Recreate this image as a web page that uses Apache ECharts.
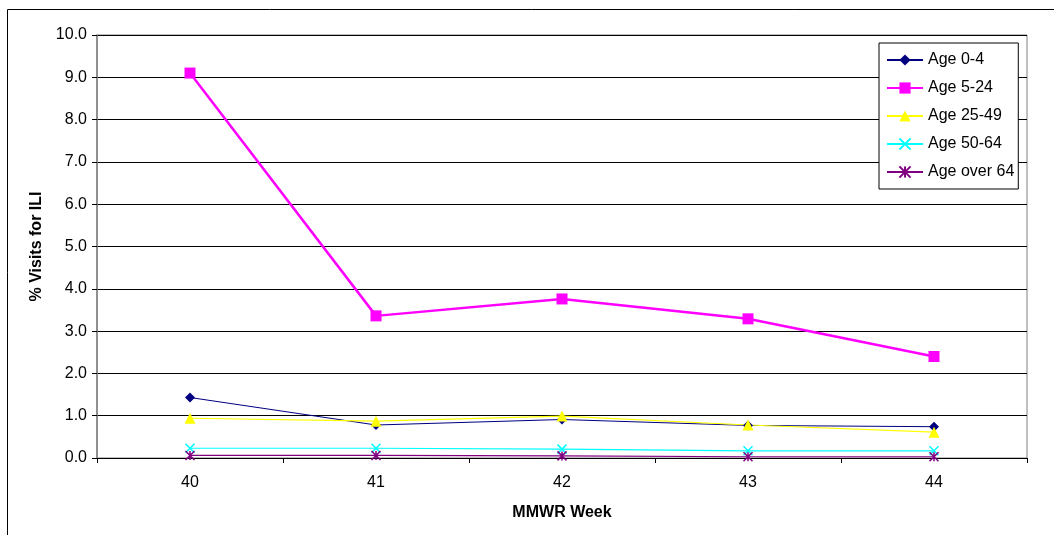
<!DOCTYPE html>
<html>
<head>
<meta charset="utf-8">
<script src="https://cdn.jsdelivr.net/npm/echarts@6/dist/echarts.min.js"></script>
<style>
html,body{margin:0;padding:0;background:#fff;}
#chart{width:1054px;height:535px;}
</style>
</head>
<body>
<div id="chart"></div>
<script>
const categories = ['40', '41', '42', '43', '44'];
const age0_4 = [1.43, 0.78, 0.91, 0.77, 0.74];
const age5_24 = [9.10, 3.36, 3.76, 3.29, 2.40];
const age25_49 = [0.94, 0.87, 0.99, 0.78, 0.61];
const age50_64 = [0.23, 0.23, 0.21, 0.17, 0.17];
const ageOver64 = [0.06, 0.06, 0.05, 0.03, 0.03];
const seriesNames = ['Age 0-4', 'Age 5-24', 'Age 25-49', 'Age 50-64', 'Age over 64'];

const FONT = '"Liberation Sans", Arial, sans-serif';
const chart = echarts.init(document.getElementById('chart'), null, {renderer: 'canvas'});

function mk(name, data, color, symbol, size, width, strokeSym) {
  return {
    name: name, type: 'line', data: data,
    symbol: symbol, symbolSize: size, showSymbol: true,
    lineStyle: {color: color, width: width},
    itemStyle: strokeSym ? {color: 'rgba(0,0,0,0)', borderColor: color, borderWidth: 1.5} : {color: color, borderWidth: 0},
    emphasis: {disabled: true},
    animation: false
  };
}

const option = {
  backgroundColor: '#fff',
  animation: false,
  graphic: [{
    type: 'rect', silent: true,
    shape: {x: 7.5, y: 9.5, width: 1100, height: 600},
    style: {fill: 'none', stroke: '#000', lineWidth: 1}
  }],
  grid: {left: 97, right: 27, top: 35, bottom: 77, show: true, borderColor: '#808080', borderWidth: 1, backgroundColor: 'transparent'},
  legend: {
    orient: 'vertical', left: 879, top: 43,
    padding: [9, 4, 9, 7], itemGap: 12, itemWidth: 36, itemHeight: 14,
    borderColor: '#000', borderWidth: 1, backgroundColor: '#fff',
    textStyle: {fontFamily: FONT, fontSize: 16, color: '#000'},
    data: seriesNames
  },
  xAxis: {
    type: 'category', data: categories, boundaryGap: true,
    name: 'MMWR Week', nameLocation: 'middle', nameGap: 47,
    nameTextStyle: {fontFamily: FONT, fontSize: 16, fontWeight: 'bold', color: '#000'},
    axisLine: {lineStyle: {color: '#000', width: 1}},
    axisTick: {show: true, alignWithLabel: false, length: 5, lineStyle: {color: '#000'}},
    axisLabel: {fontFamily: FONT, fontSize: 16, color: '#000', margin: 17},
    splitLine: {show: false}
  },
  yAxis: {
    type: 'value', min: 0, max: 10, interval: 1,
    name: '% Visits for ILI', nameLocation: 'middle', nameGap: 52,
    nameTextStyle: {fontFamily: FONT, fontSize: 16, fontWeight: 'bold', color: '#000'},
    axisLine: {show: true, lineStyle: {color: '#808080', width: 1.5}},
    axisTick: {show: true, length: 5, lineStyle: {color: '#000'}},
    axisLabel: {fontFamily: FONT, fontSize: 16, color: '#000', margin: 10, formatter: v => v.toFixed(1)},
    splitLine: {show: true, lineStyle: {color: '#000', width: 1}}
  },
  series: [
    mk('Age 0-4', age0_4, '#000080', 'diamond', 10, 1, false),
    mk('Age 5-24', age5_24, '#FF00FF', 'rect', 11, 2.5, false),
    mk('Age 25-49', age25_49, '#FFFF00', 'triangle', 11, 1.2, false),
    mk('Age 50-64', age50_64, '#00FFFF', 'path://M0,0L10,10M10,0L0,10', 9, 1.2, true),
    mk('Age over 64', ageOver64, '#800080', 'path://M0,0L10,10M10,0L0,10M5,0L5,10', 9, 1.2, true)
  ]
};
chart.setOption(option);
</script>
</body>
</html>
